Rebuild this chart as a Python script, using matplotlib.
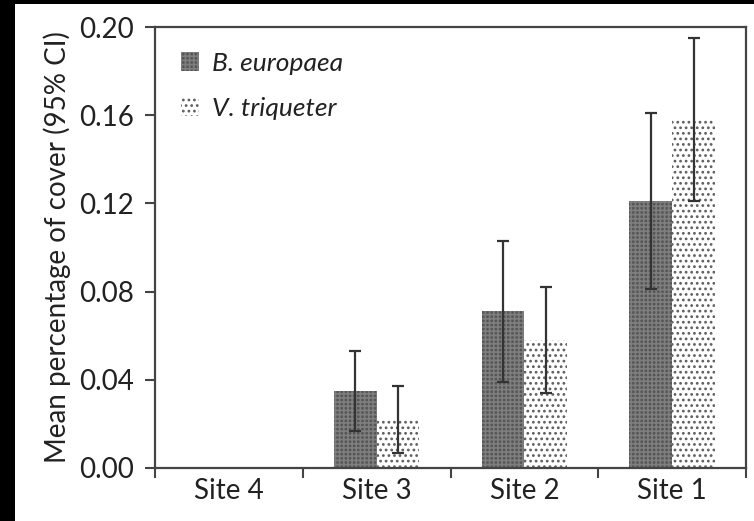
import matplotlib.pyplot as plt
import matplotlib.patches as mpatches
import numpy as np

plt.rcParams['font.family'] = ['Lato', 'DejaVu Sans']
plt.rcParams['hatch.linewidth'] = 1.2

sites = ['Site 4', 'Site 3', 'Site 2', 'Site 1']
europaea = [0.0, 0.035, 0.071, 0.121]
europaea_ci = [0.0, 0.018, 0.032, 0.040]
triqueter = [0.0, 0.022, 0.058, 0.158]
triqueter_ci = [0.0, 0.015, 0.024, 0.037]
yticks = [0.00, 0.04, 0.08, 0.12, 0.16, 0.20]

fig = plt.figure(figsize=(7.54, 5.21), dpi=100, facecolor='black')
# white page area, black strips on top and left like the scan
fig.patches.append(mpatches.Rectangle((15 / 754, 0), 1, 517 / 521,
                                      transform=fig.transFigure,
                                      facecolor='white', edgecolor='none', zorder=-10))
ax = fig.add_axes([155 / 754, 53 / 521, 591 / 754, 441 / 521])
ax.set_zorder(5)

x = np.arange(len(sites)) + 0.5
w = 0.29
txt = '#222222'

ax.bar(x - w / 2, europaea, w, facecolor='#555555', edgecolor='#7e7e7e',
       hatch='++++', linewidth=0, label='B. europaea', zorder=2)
ax.bar(x + w / 2, triqueter, w, facecolor='white', edgecolor='#5e5e5e',
       hatch='...', linewidth=0, label='V. triqueter', zorder=2)

for xs, v, ci in [(x - w / 2, europaea, europaea_ci), (x + w / 2, triqueter, triqueter_ci)]:
    keep = np.array(v) > 0
    ax.errorbar(xs[keep], np.array(v)[keep], yerr=np.array(ci)[keep], fmt='none',
                ecolor='#333333', elinewidth=1.6, capsize=4.5, capthick=1.6, zorder=3)

ax.set_xlim(0, 4)
ax.set_ylim(0, 0.20)
ax.set_xticks(np.arange(5))
ax.set_xticklabels([])
ax.set_xticks(x, minor=True)
ax.set_xticklabels(sites, minor=True, fontsize=20, color=txt)
ax.tick_params(axis='x', which='minor', length=0, pad=7)
ax.tick_params(axis='x', which='major', length=7, width=1.5, color='#444444')
ax.set_yticks(yticks)
ax.set_yticklabels([f'{t:.2f}' for t in yticks], fontsize=20, color=txt)
ax.tick_params(axis='y', length=7, width=1.5, color='#444444', pad=8)

for s in ax.spines.values():
    s.set_linewidth(1.6)
    s.set_color('#444444')

ax.set_ylabel('Mean percentage of cover (95% CI)', fontsize=20, color=txt, labelpad=6)

leg = ax.legend(loc='upper left', bbox_to_anchor=(0.003, 0.998), frameon=False,
                prop={'style': 'italic', 'size': 19}, handlelength=0.7,
                handleheight=0.7, handletextpad=0.5, labelspacing=0.85)
for t in leg.get_texts():
    t.set_color(txt)

fig.savefig('out.png', dpi=100, facecolor=fig.get_facecolor())
